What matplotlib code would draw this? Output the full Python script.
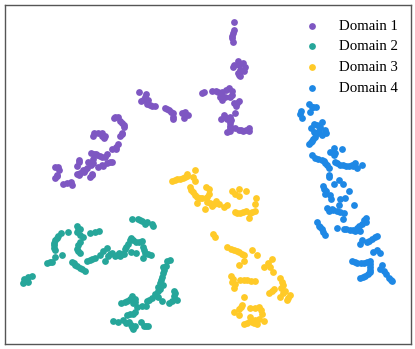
import numpy as np
import matplotlib
matplotlib.use('Agg')
import matplotlib.pyplot as plt

# ── Embedding points ──────────────────────────────────
domain_1 = [
    (139,92),(145,97),(146,94),(143,100),(148,100),(141,101),(147,104),(150,105),(152,106),(155,106),
    (165,108),(167,109),(169,110),(171,112),(173,113),(173,117),(173,119),(182,113),(185,112),(188,115),(184,118),
    (114,118),(115,117),(118,117),(120,121),(122,123),(124,125),(124,127),(122,133),(120,136),(122,134),
    (94,133),(93,136),(98,133),(102,133),(105,136),(104,138),(102,136),
    (118,144),(116,147),(112,149),(116,149),
    (91,153),(94,154),(96,154),(97,155),(100,156),(102,157),(107,154),(105,157),
    (79,160),(79,162),(93,159),(88,162),(93,163),(91,165),
    (112,162),(110,162),(107,163),(102,165),(98,167),(103,166),
    (77,166),(87,168),(85,170),(83,170),(80,173),(77,174),(79,175),(84,172),
    (55,167),(58,167),(59,170),(92,174),(57,175),(57,176),(55,178),(79,174),(90,177),(92,175),
    (63,184),(67,183),(71,182),(72,185),
    (234,22),(234,30),(233,33),(232,36),(232,38),(233,42),
    (238,61),(234,65),(239,65),(243,63),(245,67),(240,70),(244,71),(239,75),(240,76),(238,73),(233,67),
    (212,91),(216,91),(218,92),(222,92),(226,90),(229,88),(232,91),(232,95),(220,97),(225,97),(230,97),
    (222,100),(234,103),(237,103),(239,101),(236,106),
    (202,93),(204,92),
    (235,113),(230,117),(231,120),(224,115),(225,117),(221,119),(227,119),(230,123),(230,126),(230,128),(227,132),(230,131),
    (235,128),(239,130),(241,130),(243,131),(246,130),(249,128),(249,131),
]
domain_2 = [
    (132,219),(138,219),(140,220),(142,221),(147,222),(152,224),(153,226),(145,224),
    (77,226),(80,229),(78,230),(77,232),(80,235),(83,237),(68,232),(90,233),(95,232),(99,231),
    (61,233),(58,236),(57,238),(55,240),(54,243),(54,245),(54,248),(55,250),(80,242),(78,245),(77,249),(78,251),(80,253),
    (62,255),(55,257),(52,262),(47,263),(50,262),
    (72,262),(74,263),(75,265),(77,266),(80,268),(82,269),(85,271),(87,261),(90,260),(92,259),(95,258),
    (100,255),(103,251),(107,248),(105,261),(108,256),(110,254),(112,253),(115,256),(117,255),(119,253),(120,256),
    (122,254),(124,254),(125,249),(126,247),(128,244),(130,240),(131,238),(133,240),(136,242),(139,242),(142,241),(131,252),(136,253),
    (143,247),(144,250),(145,253),(143,258),(151,255),(148,254),
    (170,260),(167,261),(166,266),(164,270),(163,267),(163,273),(162,277),(161,280),(160,283),(163,285),(160,289),(158,287),(158,291),
    (174,291),(175,293),(174,296),(177,300),(172,301),(169,303),
    (155,294),(156,295),(152,298),(149,300),(147,301),(146,306),(142,306),(158,297),(162,301),
    (132,296),(135,299),(130,299),(127,301),(125,302),(121,303),(133,303),(135,302),(137,307),
    (135,312),(133,314),(130,314),(127,315),
    (113,321),(118,322),(123,320),(126,323),(129,322),(131,325),(132,327),(133,329),(135,326),
    (141,322),(144,326),(146,326),(148,326),
    (24,279),(28,277),(32,276),(23,283),(28,282),(26,281),
]
domain_3 = [
    (172,181),(175,180),(177,179),(180,179),(183,178),(185,177),(187,176),(193,177),(195,181),(190,187),(191,190),
    (193,192),(195,195),(197,197),(200,198),
    (202,198),(206,187),(197,203),(205,209),(207,197),(195,170),(187,174),
    (209,189),(209,194),(207,202),(210,203),(212,206),(214,204),(216,201),(219,204),(224,207),(227,205),
    (232,191),(239,189),(246,191),(235,194),(239,196),(256,198),(255,204),
    (235,212),(237,213),(240,213),(243,212),(246,211),(250,213),(252,212),(255,211),(249,218),
    (213,234),(215,237),
    (227,247),(231,249),(234,250),(237,251),(239,252),(242,254),(244,255),(252,250),(257,255),(244,261),(239,265),
    (272,259),(268,263),(264,267),(270,267),(273,272),
    (231,276),(232,282),(233,279),(235,284),(234,288),(240,280),(244,280),(247,280),(251,281),(255,281),
    (280,278),(282,282),(283,285),(281,288),(285,291),(283,293),(290,295),(288,298),(287,300),(280,297),(274,289),(272,291),(269,293),
    (244,297),(242,305),(241,307),(239,309),(234,312),(239,315),(250,308),(255,308),(259,307),(261,310),(262,314),
    (250,317),(259,319),(255,320),(264,321),(250,321),(244,324),(247,323),(257,324),(254,323),(252,322),
]
domain_4 = [
    (309,104),(312,107),(313,107),(316,107),(310,112),(301,111),(300,114),(302,118),
    (322,122),(314,124),(317,125),(320,127),(311,128),(319,131),(325,130),(326,133),(322,135),(318,133),(314,132),(315,137),(313,139),(312,141),(311,142),(309,144),
    (334,148),(342,149),(330,152),(335,153),(334,155),
    (312,155),(315,158),(318,159),(322,160),(324,161),(325,163),(327,165),(329,168),
    (335,162),(337,163),(340,165),(343,165),(346,166),(349,166),(352,165),(355,163),(362,165),(357,168),(353,166),(329,175),
    (329,177),(339,180),(334,184),(343,184),(323,186),(324,189),(326,191),(325,194),(330,195),(331,199),
    (349,191),(345,198),(340,199),(339,205),(354,205),(327,208),(332,209),(333,210),(337,211),(340,212),(344,213),(343,219),(329,211),
    (317,222),(319,226),(320,227),(322,229),(323,232),(325,235),
    (337,228),(344,229),(346,229),(350,230),(353,230),(355,231),(357,228),(359,226),(362,224),(364,220),(366,218),(366,222),(360,231),
    (360,244),(362,240),(367,242),(369,241),(372,239),(375,237),(377,236),(373,252),(377,250),(380,253),
    (352,261),(355,262),(357,263),(361,263),(364,263),(367,262),(370,261),(370,264),(370,267),(370,270),(370,272),(368,274),(365,276),(363,277),(360,278),
    (382,265),(380,269),(384,271),(386,274),(389,278),(391,280),(392,281),
]
labels = ['Domain 1', 'Domain 2', 'Domain 3', 'Domain 4']
colors = ['#7E57C2', '#26A69A', '#FFCA28', '#1E88E5']

# ── Plot ──────────────────────────────────────────────
fig = plt.figure(figsize=(4.15, 3.49), dpi=100)
ax = fig.add_axes([4.5/415, 1 - 344/349, 406/415, 339.5/349])

for pts, label, color in zip([domain_1, domain_2, domain_3, domain_4], labels, colors):
    pts = np.array(pts)
    ax.scatter(pts[:, 0], pts[:, 1], s=24, color=color, linewidths=0, label=label)

# axes run in picture units, y downwards
ax.set_xlim(4.5, 410.5)
ax.set_ylim(344, 4.5)
ax.set_xticks([])
ax.set_yticks([])
for spine in ax.spines.values():
    spine.set_color('#555555')
    spine.set_linewidth(1.0)

ax.legend(loc='upper left', bbox_to_anchor=(0.691, 0.992), frameon=False, scatterpoints=1,
          prop={'family': 'Liberation Serif', 'size': 10.7}, labelspacing=0.5,
          handletextpad=0.8, borderpad=0.3)

plt.savefig('out.png', dpi=100)
plt.close()
